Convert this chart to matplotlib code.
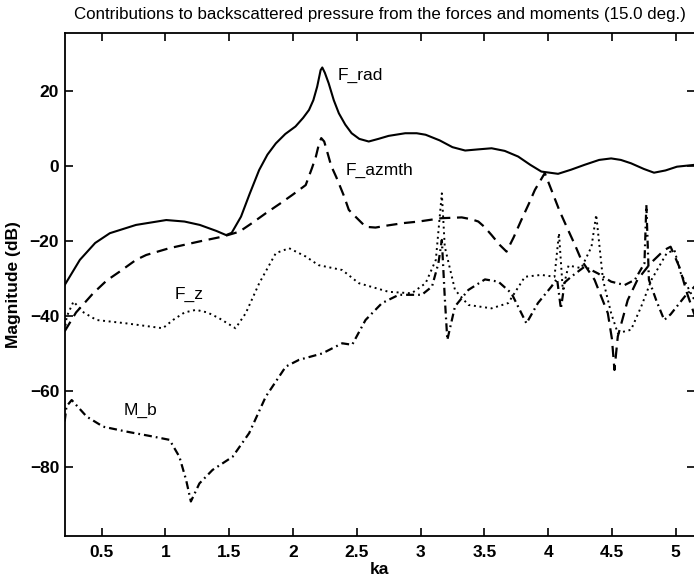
import numpy as np
import matplotlib
matplotlib.use("Agg")
import matplotlib.pyplot as plt

plt.rcParams['font.family'] = ['Liberation Sans', 'DejaVu Sans']

# --- backscatter contributions vs ka (dB) ---
ka_rad = [0.211, 0.33, 0.45, 0.565, 0.77, 1.007, 1.15, 1.27, 1.40, 1.476, 1.52, 1.593,
          1.66, 1.735, 1.80, 1.866, 1.94, 2.02, 2.08, 2.126, 2.16, 2.19, 2.217, 2.23,
          2.25, 2.28, 2.32, 2.36, 2.41, 2.46, 2.52, 2.594, 2.67, 2.75, 2.88, 2.97, 3.04,
          3.15, 3.25, 3.35, 3.45, 3.557, 3.66, 3.765, 3.86, 3.947, 4.078, 4.18, 4.286,
          4.40, 4.494, 4.57, 4.65, 4.75, 4.83, 4.92, 5.01, 5.151]
F_rad = [-31.7, -25.0, -20.5, -17.9, -15.7, -14.4, -14.8, -15.7, -17.3, -18.4, -17.8, -13.5,
         -7.5, -1.1, 3.0, 6.0, 8.5, 10.5, 12.8, 14.9, 17.5, 21.1, 25.5, 26.2,
         24.8, 22.0, 17.5, 14.0, 11.0, 8.7, 7.2, 6.5, 7.2, 8.0, 8.7, 8.7, 8.3,
         6.8, 5.0, 4.1, 4.4, 4.7, 4.0, 2.5, 0.3, -1.5, -2.1, -1.0, 0.3,
         1.6, 2.0, 1.6, 0.7, -0.8, -1.8, -1.2, -0.2, 0.3]

ka_az = [0.211, 0.30, 0.434, 0.54, 0.643, 0.77, 0.85, 1.03, 1.267, 1.45, 1.58, 1.68,
         1.787, 1.90, 1.996, 2.10, 2.15, 2.18, 2.205, 2.222, 2.245, 2.275, 2.30, 2.34,
         2.40, 2.438, 2.49, 2.57, 2.647, 2.75, 2.87, 2.985, 3.167, 3.323, 3.40, 3.453,
         3.50, 3.557, 3.62, 3.674, 3.73, 3.79, 3.85, 3.896, 3.974, 4.026, 4.09, 4.156,
         4.21, 4.26, 4.364, 4.468, 4.50, 4.52, 4.546, 4.624, 4.70, 4.80, 4.91, 4.96,
         5.03, 5.09, 5.151]
F_azmth = [-44.0, -39.0, -33.9, -30.5, -28.1, -25.0, -23.7, -21.9, -20.1, -18.8, -17.5, -15.2,
           -12.6, -10.0, -7.7, -5.1, -0.5, 2.5, 6.0, 7.4, 6.5, 3.0, 0.0, -3.0,
           -8.0, -11.7, -13.5, -16.2, -16.4, -15.8, -15.2, -14.8, -13.9, -13.7, -14.2, -14.8,
           -16.2, -18.4, -21.0, -22.8, -19.0, -14.4, -10.0, -6.4, -1.9, -6.4, -12.0, -17.0,
           -21.0, -25.0, -30.3, -39.2, -46.0, -54.3, -45.4, -35.7, -30.3, -26.0, -22.4, -21.5,
           -27.0, -34.0, -40.0]

ka_z = [0.211, 0.227, 0.28, 0.36, 0.46, 0.695, 0.98, 1.06, 1.15, 1.24, 1.33, 1.42, 1.55,
        1.63, 1.736, 1.866, 1.97, 2.10, 2.20, 2.386, 2.516, 2.75, 2.93, 3.04, 3.12, 3.167,
        3.19, 3.27, 3.375, 3.557, 3.687, 3.818, 3.947, 4.05, 4.085, 4.115, 4.16, 4.26,
        4.34, 4.377, 4.43, 4.494, 4.546, 4.65, 4.73, 4.81, 4.93, 4.99, 5.04, 5.151]
F_z = [-44.0, -40.1, -36.1, -39.0, -41.0, -41.9, -43.2, -41.0, -39.0, -38.3, -39.0, -40.5, -43.2,
       -39.2, -31.2, -23.2, -21.9, -24.1, -26.4, -27.7, -31.2, -33.5, -33.9, -31.2, -25.0, -7.3,
       -21.5, -33.0, -37.0, -37.9, -36.5, -29.5, -29.0, -29.5, -17.9, -33.0, -26.5, -27.2,
       -21.5, -13.0, -30.3, -39.2, -44.5, -43.6, -37.4, -30.3, -23.2, -22.4, -28.6, -36.0]

ka_mb = [0.211, 0.225, 0.266, 0.383, 0.513, 0.695, 0.90, 1.033, 1.11, 1.163, 1.20, 1.267,
         1.37, 1.527, 1.657, 1.787, 1.944, 2.048, 2.23, 2.386, 2.464, 2.569, 2.698, 2.83,
         3.01, 3.09, 3.14, 3.167, 3.19, 3.21, 3.27, 3.375, 3.505, 3.61, 3.713, 3.83,
         3.92, 4.026, 4.07, 4.10, 4.13, 4.18, 4.286, 4.39, 4.494, 4.60, 4.68, 4.755,
         4.77, 4.79, 4.85, 4.91, 4.96, 5.07, 5.151]
M_b = [-68.0, -64.0, -62.3, -66.7, -69.4, -70.7, -72.0, -72.9, -77.4, -83.6, -89.3, -84.5,
       -80.9, -77.4, -71.1, -61.4, -53.4, -51.6, -49.9, -47.2, -47.6, -41.0, -36.5, -34.3,
       -34.3, -32.1, -25.9, -19.7, -35.0, -46.3, -37.4, -33.0, -30.2, -30.8, -33.9, -41.9,
       -36.5, -32.1, -30.0, -38.0, -31.0, -29.5, -26.8, -28.6, -30.8, -31.7, -30.3, -25.9,
       -10.4, -30.3, -36.0, -41.0, -39.5, -34.8, -32.0]

xticks = [0.5, 1, 1.5, 2, 2.5, 3, 3.5, 4, 4.5, 5]
xticklabels = ['0.5', '1', '1.5', '2', '2.5', '3', '3.5', '4', '4.5', '5']
yticks = [-80, -60, -40, -20, 0, 20]

fig = plt.figure(figsize=(6.94, 5.82), dpi=100)
ax = fig.add_axes([0.0932, 0.0796, 0.9082, 0.8632])

ax.plot(ka_rad, F_rad, color='black', lw=1.5, ls='-')
ax.plot(ka_az, F_azmth, color='black', lw=1.6, ls=(0, (5, 3)))
ax.plot(ka_z, F_z, color='black', lw=1.4, ls=(0, (1, 1.9)))
ax.plot(ka_mb, M_b, color='black', lw=1.6, ls=(0, (3.6, 1.8, 0.8, 1.8)))

ax.text(2.35, 24, 'F_rad', fontsize=12.5, va='center', ha='left')
ax.text(2.41, -1.1, 'F_azmth', fontsize=12.5, va='center', ha='left')
ax.text(1.07, -34.3, 'F_z', fontsize=12.5, va='center', ha='left')
ax.text(0.67, -65, 'M_b', fontsize=12.5, va='center', ha='left')

ax.set_xlim(0.211, 5.151)
ax.set_ylim(-98.4, 35.3)
ax.set_xticks(xticks)
ax.set_xticklabels(xticklabels)
ax.set_yticks(yticks)
ax.tick_params(direction='in', length=6, width=1.2, top=True, right=True,
               labelsize=12.5)
ax.tick_params(axis='x', pad=7)
ax.tick_params(axis='y', pad=4)
for lab in ax.get_xticklabels() + ax.get_yticklabels():
    lab.set_fontweight('bold')
for s in ax.spines.values():
    s.set_linewidth(1.3)

ax.set_xlabel('ka', fontsize=12.5, fontweight='bold', labelpad=1)
ax.set_ylabel('Magnitude (dB)', fontsize=12.5, fontweight='bold', labelpad=6)
fig.text(0.547, 1 - 14 / 582, 'Contributions to backscattered pressure from the forces and moments (15.0 deg.)',
         ha='center', va='center', fontsize=12.2)

fig.savefig('out.png', dpi=100)
